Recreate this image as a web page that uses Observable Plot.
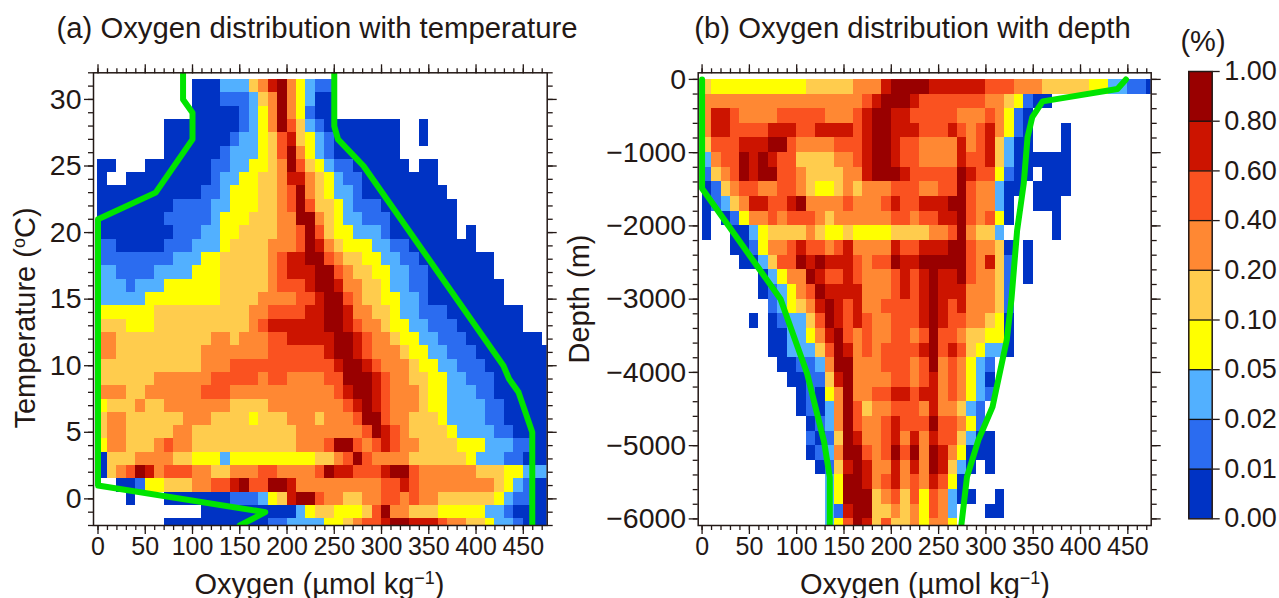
<!DOCTYPE html>
<html><head><meta charset="utf-8">
<script src="https://cdn.jsdelivr.net/npm/d3@7"></script>
<script src="https://cdn.jsdelivr.net/npm/@observablehq/plot@0.6"></script>
<style>
html,body{margin:0;padding:0;background:#fff;width:1279px;height:598px;overflow:hidden}
#page{position:relative;width:1279px;height:598px;font-family:"Liberation Sans",Arial,sans-serif;color:#231815}
#page>div{position:absolute}
.lbl{position:absolute;white-space:nowrap;line-height:1}
.lbl sup{font-size:.62em;line-height:0;vertical-align:.55em}
</style></head><body>
<div id="page"></div>
<script>
// Colour classes (percent of samples)
const legendLabels = ["0.00","0.01","0.02","0.05","0.10","0.20","0.40","0.60","0.80","1.00"];
const binEdges = [0.01,0.02,0.05,0.10,0.20,0.40,0.60,0.80];
const binValues = [0.005,0.015,0.035,0.075,0.15,0.30,0.50,0.70,0.90];
const binColors = ["#0033c4","#2b6cf0","#52b0ff","#ffff00","#ffcc4d","#ff8833","#fa5220","#cc1400","#990000"];

// Panel (a): one string per temperature row, 31 C down to -2 C; one character per 10 umol/kg bin; digit = class index
const tempRows = [31,30,29,28,27,26,25,24,23,22,21,20,19,18,17,16,15,14,13,12,11,10,9,8,7,6,5,4,3,2,1,0,-1,-2];
const tempGrid = [
"..........000 222 4 5 7 8 5 3 2 11",
"..........000 111 2 4 5 8 5 3 2 00",
"..........00000 1 2 3 5 8 5 3 1 00",
".......00000000 1 2 3 5 8 6 4 2 1 00000000 .. 0",
".......0000000 1 22 3 4 6 7 4 3 2 1 0000000 .. 0",
".......000000 1 222 3 4 6 8 5 3 2 1 0000000",
"00...0000000 11 22 33 4 5 8 6 4 3 2 11 000000 . 00",
"0..000000000 1 22 33 44 5 77 5 4 3 2 11 00000000",
"00000000000 11 2 333 44 5 6 8 5 4 3 22 1 000000000",
"00000000 1111 22 333 44 5 6 8 6 44 3 2 111 00000000",
"0000000 11111 2 333 444 55 88 5 4 3 22 111 0000000",
"00000000 111 22 33 4444 55 6 8 6 4 33 222 1 0000000 . 0",
"11 00000 111 222 3 4444 555 6 8 7 5 4 333 22 11 0000000",
"11111111 222 33 44444 5 6 77 88 6 5 44 33 22 11 00000000",
"22 1111 2222 333 44444 5 6 777 88 6 5 44 33 22 11 0000000",
"222 1 222 333333 44444 5 666 7 88 7 55 44 3 22 11 00000000",
"22222 33333333 4444 5555 66 7 88 6 5 44 33 22 1 00000000",
"333333 4444444444 55 6666 7 7 88 7 55 44 3 22 111 00000000",
"444 333 4444444444 5 6 7 7 777 7 88 7 6 55 4 33 22 111 0000000",
"55 4444444444 55 4 555 66 7777 7 88 7 6 55 4 33 22 111 00000000",
"55 444444444 5555555 666666 7 88 7 6 555 4 33 22 111 00000000",
"44444444444 555 6666666666 6 7 88 7 6 555 4 33 22 111 0000000",
"444444 555555 66666 5 66 5555 66 888 7 6 55 44 33 22 111 000000",
"555 44 555555 666 5555555555 5 6 7 88 7 6 555 4 33 222 11 000000",
"3 444 5 44 5555555 4444 555555 55 6 7 8 7 6 555 4 33 2222 11 00000",
"4 55 444444 555 4444 3 444 555 4 555 6 88 6 55 444 3 2222 11 00000",
"4 55 44444 55 44444444444 555 5555 6 8 7 6 5 4444 3 2222 11 0000",
"3 55 444 5 6 55 44444444444 555 6 88 6 5 6 7 6 55 4444 333 222 11 00",
"0 444 5555 44 333 2 333333333 4 4 5 6 8 6 5555 444444 3 222 11 000",
"0 4 5 6 8 7 5 666 55 44 555 66 5555 6 8 77 666 7 88 6 555555 444 33 222",
"..00 1 33 444 55 66 7 8 66 88 7 555555555 66 7 6 55555555 4 3 2 1 00",
"... 0 ... 0000000 111 2 3 4 7 88 6 55 44 55 66 5 6 55 444444 3 2 11 00",
"........... 0000000000 2 3 44 333 4 6 8 55 444 33333 22 1 0000",
"....... 00000000000 11 2222 33 4 5 66 7 88 777 6 55 44 3 22 1 000"
];
const tempLowO2 = [90,90,100,100,61,0,0,177,150];
const tempLowT  = [32,30,29,27,23,21,1,-1,-2];
const tempHighO2 = [250,250,254,281,429,435,445,459.5,459.5];
const tempHighT  = [32,28,27,25,10,9,8,5,-2];

// Panel (b): one string per 200 m depth bin, from the surface down
const depthStarts = d3.range(0,-6200,-200);
const depthGrid = [
"4 3333333333 44444 555 7 8888 7 7 77 77 666 555 44444 33 22 11 0",
"55555555555555555 6 7 888 7 6 666666 55 4 3 1 00",
"5 77 6 5555 66666 555 6 7 88 7 7 66 666 555 6 5 3 1 0",
"5 77 6666 777 66 7777 6 7 88 777 6 66 7 6 5 6 7 5 3 1 0 ... 0",
"4 666 777 88 6 5555 666 7 88 7 66 5 555 7 5 6 7 4 2 00 ... 0",
"2 5 66 8 7 8 7 66 4444 55 6 7 88 7 66 5 555 7 66 7 4 2 000000",
"1 4 5 6 8 7 88 66 5 4444 55 7 888 7 66 666 8 7 66 3 1 00 . 000",
"0 1 4 5 66 55 66 5 4 33 4 5 4 555 666 5 5 66 8 6 55 2 00 . 0000",
"0 1 2 4 5 77 66 7 8 5555 6 555 6 7 66 7 77 88 6 55 2 0 .. 000",
"0 . 0 1 3 55 6 5 666 5 4 555555 66 5 6 6 77 8 6 5 6 3 0 .... 0",
"0 .. 00 2 3 4444 5 4 33 4 3333 4444 55 6 8 5 44 2 ..... 0",
"... 00 1 3 55 6 7 66 5 6 7 5555 7 66 7 77 88 6 55 4 0 . 0",
".... 00 2 4 66 8 7 8 7 7 7 6 5 66 8 77 8 8888 6 5 7 4 1 . 0",
"...... 0 2 3 55 8 7 66 7 6 555 6 7 6 7 8 77 8 6 55 4 1 . 0",
"...... 0 1 2 3 5 6 8 7 7 77 555 6 7 6 7 8 7 77 555 4 1",
"....... 1 2 3 4 5 7 8 7 6 7 55 6666 7 8 7 6 7 555 4 1",
"..... 0 . 0 1 22 4 6 8 7 6 7 6 55 666 7 8 7 66 55 4 3 0",
"....... 00 22 3 5 7 8 6 5 6 55 66 5 6 8 66 5 44 33 0",
"....... 00 222 4 6 8 7 5 6 5 666 6 7 8 6 7 6 4 3 22 0",
"........ 00 11 2 5 88 555 666 5 6 8 5 6 5 3 2 1",
"......... 00 11 4 7 8 5555 66 5 6 7 5 6 5 3 2 0",
".......... 0 1 0 3 5 8 55 66 77 6 7 7 5 6 5 3 2 1",
".......... 0 1 0 2 5 8 6 4 55 666 5 7 55 4 2 1",
"........... 0 1 2 5 8 6 55 6 7 66 6 8 66 5 3 1",
"........... 1 0 1 4 8 7 55 6 7 5 7 5 7 66 4 2 00",
"........... 0 1 2 5 88 6 5 6 8 6 8 5 8 7 5 3 000",
"............ 0 1 4 7 8 7 55 7 5 7 5 8 7 4 2 0 . 0",
"............. 2 3 88 7 5 6 7 5 6 5 7 6 3 0",
"............. 2 3 888 4 5 6 4 6 3 6 5 2 00 .. 0",
"............. 2 1 7 88 44 5 4 5 3 6 5 2 ... 00",
"............. 2 3 6 8 7 4 6 44 5 3 55 3"
];
const depthLowO2 = [0,0,83,111,129,135,135];
const depthLowD  = [0,-1490,-3000,-4015,-4950,-5430,-6090];
const depthHighO2 = [448,439,360,349,344,342,340,333,327,322,307,292,280,274];
const depthHighD  = [0,-130,-300,-515,-790,-1105,-1420,-2060,-3000,-3560,-4470,-4925,-5425,-6090];

const INK = "#231815", GREEN = "#00e400", BINW = 10;
const threshold = {type:"threshold", domain:binEdges, range:binColors};

function cells(grid, keys, span){
  const out=[];
  grid.forEach((row,r)=>{
    [...row.replace(/ /g,"")].forEach((c,i)=>{
      if(c===".") return;
      const [a,b]=span(keys[r]);
      out.push({x1:i*BINW,x2:(i+1)*BINW,y1:a,y2:b,value:binValues[+c]});
    });
  });
  return out;
}
function axes(xMajor,xMinor,yMajor,yMinor,xFont,yFont,yFmt){
  const none={fill:"none",label:null,stroke:INK,strokeWidth:1.3};
  return [
    Plot.axisX({anchor:"bottom",ticks:xMajor,tickSize:9,tickPadding:3,label:null,fontSize:xFont,fill:INK,stroke:INK,strokeWidth:1.3}),
    Plot.axisX({anchor:"bottom",ticks:xMinor,tickSize:5,...none}),
    Plot.axisX({anchor:"top",ticks:xMajor,tickSize:9,...none}),
    Plot.axisX({anchor:"top",ticks:xMinor,tickSize:5,...none}),
    Plot.axisY({anchor:"left",ticks:yMajor,tickSize:9,tickPadding:3,label:null,fontSize:yFont,fill:INK,stroke:INK,strokeWidth:1.3,tickFormat:yFmt}),
    Plot.axisY({anchor:"left",ticks:yMinor,tickSize:5,...none}),
    Plot.axisY({anchor:"right",ticks:yMajor,tickSize:9,...none}),
    Plot.axisY({anchor:"right",ticks:yMinor,tickSize:5,...none}),
  ];
}
const svgStyle={fontFamily:"'Liberation Sans',Arial,sans-serif",background:"transparent",overflow:"visible",color:INK};
const greenLine=(xs,ys)=>Plot.line(xs.map((x,i)=>({x,y:ys[i]})),{x:"x",y:"y",stroke:GREEN,strokeWidth:6,strokeLinejoin:"round",clip:true});

const o2Major=d3.range(0,451,50), o2Minor=d3.range(0,471,10);

const panelA=Plot.plot({
  width:560,height:598,marginLeft:93,marginRight:13.3,marginTop:72.3,marginBottom:73,
  style:svgStyle,
  x:{domain:[-4.76,475.3]},y:{domain:[-2,32]},color:threshold,
  marks:[
    Plot.rect(cells(tempGrid,tempRows,t=>[t-.5,t+.5]),{x1:"x1",x2:"x2",y1:"y1",y2:"y2",fill:"value",clip:true,shapeRendering:"crispEdges"}),
    greenLine(tempLowO2,tempLowT),greenLine(tempHighO2,tempHighT),
    Plot.frame({stroke:INK,strokeWidth:1.5}),
    ...axes(o2Major,o2Minor,d3.range(0,31,5),d3.range(-2,33,1),25,28.5,d3.format("d"))
  ]
});
const panelB=Plot.plot({
  width:600,height:598,marginLeft:137.7,marginRight:9.3,marginTop:72.3,marginBottom:73,
  style:svgStyle,
  x:{domain:[-4.1,474.7]},y:{domain:[-6090,90]},color:threshold,
  marks:[
    Plot.rect(cells(depthGrid,depthStarts,d=>[d-200,d]),{x1:"x1",x2:"x2",y1:"y1",y2:"y2",fill:"value",clip:true,shapeRendering:"crispEdges"}),
    greenLine(depthLowO2,depthLowD),greenLine(depthHighO2,depthHighD),
    Plot.frame({stroke:INK,strokeWidth:1.5}),
    ...axes(o2Major,o2Minor,d3.range(-6000,1,1000),d3.range(-6000,1,200),25,28.5,d3.format("d"))
  ]
});
const legendIdx=d3.range(9);
const colorbar=Plot.plot({
  width:119,height:598,marginLeft:28.3,marginRight:67.3,marginTop:71,marginBottom:79.7,
  style:svgStyle,
  x:{domain:[0,1],axis:null},y:{domain:[0,9]},color:threshold,
  marks:[
    Plot.rect(legendIdx,{x1:0,x2:1,y1:d=>d,y2:d=>d+1,fill:d=>binValues[d],shapeRendering:"crispEdges"}),
    Plot.ruleY(d3.range(1,9),{stroke:"#111",strokeWidth:1.3}),
    Plot.frame({stroke:INK,strokeWidth:1.5}),
    Plot.axisY({anchor:"right",ticks:d3.range(10),tickSize:7,tickPadding:5,label:null,fontSize:27,fill:INK,stroke:INK,strokeWidth:1.3,tickFormat:i=>legendLabels[i]})
  ]
});
const page=document.getElementById("page");
[[panelA,0],[panelB,560],[colorbar,1160]].forEach(([s,left])=>{
  const d=document.createElement("div");d.style.left=left+"px";d.style.top="0";d.appendChild(s);page.appendChild(d);
});
function label(html,x,y,size,rot){
  const e=document.createElement("span");e.className="lbl";e.innerHTML=html;
  e.style.left=x+"px";e.style.top=y+"px";e.style.fontSize=size+"px";
  e.style.transform=(rot?"translate(-50%,-50%) rotate(-90deg)":"translate(-50%,-50%)");
  page.appendChild(e);
}
label("(a) Oxygen distribution with temperature",317,28,29.3);
label("(b) Oxygen distribution with depth",912.5,28,29.3);
label("(%)",1203,41,29);
label("Oxygen (µmol kg<sup>−1</sup>)",319.5,584,29);
label("Oxygen (µmol kg<sup>−1</sup>)",925,584,29);
label("Temperature (<sup>o</sup>C)",25,318,29,true);
label("Depth (m)",579,298.5,29,true);
</script>
</body></html>
